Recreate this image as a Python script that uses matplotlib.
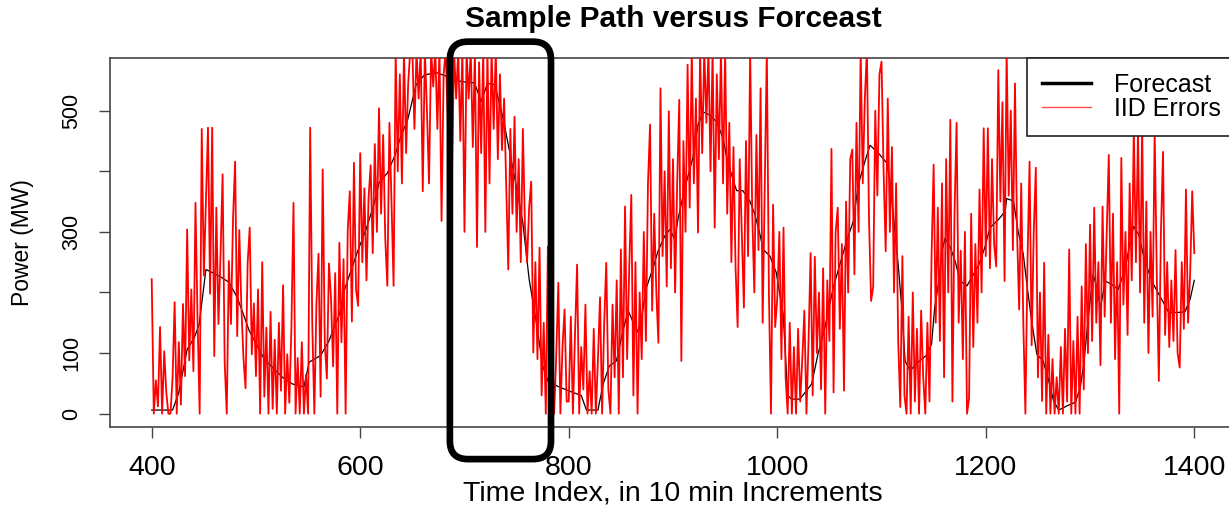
import numpy as np
import matplotlib
matplotlib.use("Agg")
import matplotlib.pyplot as plt
from matplotlib.patches import FancyBboxPatch
from matplotlib.lines import Line2D
from matplotlib.transforms import IdentityTransform

# ---------------------------------------------------------------------------
# Data
# ---------------------------------------------------------------------------
# Forecast curve (time index, MW)
forecast_time = [400, 420, 426, 434, 441, 445.5, 452, 465, 474, 482, 489, 493.5,
                 508, 516, 525.5, 535, 546, 551, 562, 570, 580, 585, 593, 597.5,
                 605.6, 613.6, 618, 626, 633, 639, 645.5, 653.6, 661.6, 672.8,
                 684, 697, 709.6, 716, 722, 729, 737, 741.6, 751, 756, 762, 769,
                 775, 780, 789.6, 802.5, 812, 817, 828, 833, 839, 845.7, 852, 857,
                 862, 866, 870, 874.5, 881, 885.6, 892, 897, 901.7, 905, 911, 919,
                 924, 929, 935, 941.7, 948, 951, 956, 961, 967, 973.7, 978.5, 983,
                 986.5, 993, 999, 1005.7, 1010, 1013.7, 1021.7, 1033, 1039, 1045.7,
                 1053.7, 1060, 1066.6, 1073, 1077.7, 1084, 1089, 1097, 1105, 1108,
                 1111, 1116, 1119.4, 1122.6, 1127.4, 1135, 1143, 1148, 1151, 1155,
                 1158, 1161, 1166, 1170.6, 1175.4, 1182, 1186.6, 1193, 1199, 1204,
                 1212, 1218.6, 1220, 1226.6, 1231, 1236, 1239, 1244, 1249, 1255,
                 1260, 1265, 1270, 1278, 1286, 1290.6, 1294, 1298.6, 1303, 1306.6,
                 1310, 1314.6, 1321, 1327, 1334, 1338.6, 1341.8, 1346.6, 1351, 1356,
                 1361, 1366, 1370.6, 1375.4, 1383.5, 1391, 1396, 1400]
forecast_mw = [6, 6, 35, 106, 126, 147, 238, 227, 217, 192, 159, 137,
               90, 76, 60, 49, 44, 85, 96, 120, 164, 205, 245, 268,
               304, 348, 381, 397, 425, 458, 485, 543, 559, 563,
               556, 548, 546, 515, 545, 543, 488, 447, 364, 315, 222, 150,
               79, 54, 45, 36, 30, 6, 6, 49, 79, 87, 137, 170,
               150, 135, 160, 208, 241, 268, 293, 304, 288, 323, 370, 422,
               477, 498, 493, 482, 455, 427, 395, 368, 368, 351, 329, 299,
               271, 260, 233, 164, 30, 24, 24, 49, 98, 142,
               208, 246, 285, 318, 378, 416, 443, 430, 414, 384,
               334, 246, 175, 87, 71, 85, 96, 115, 175, 219,
               268, 290, 274, 252, 219, 211, 225, 244, 274, 307,
               320, 334, 355, 351, 301, 263, 219, 153, 98, 87,
               57, 21, 6, 13, 19, 43, 82, 164, 230, 208,
               175, 219, 213, 205, 241, 285, 309, 296, 263, 235,
               213, 197, 183, 167, 167, 168, 189, 220]

# Sample path with IID errors, every 2nd time step from 400 to 1400
sample_start, sample_step = 400, 2
sample_mw = [
    222, 0, 55, 12, 143, 0, 103, 35, 0, 0, 58, 184, 0, 118, 15, 181, 62, 304, 88, 205, 70, 348, 152, 0, 470,
    228, 352, 472, 198, 472, 95, 340, 148, 262, 395, 84, 0, 252, 148, 322, 416, 128, 303, 176, 92, 42, 248, 307, 98, 182,
    62, 205, 0, 250, 28, 142, 0, 168, 8, 122, 0, 150, 38, 212, 0, 98, 18, 142, 348, 0, 92, 0, 118, 0, 64,
    0, 472, 148, 0, 182, 264, 28, 403, 118, 58, 248, 190, 78, 232, 0, 282, 118, 255, 0, 302, 367, 152, 414, 205, 178,
    430, 250, 372, 220, 356, 410, 265, 445, 300, 504, 330, 460, 290, 211, 480, 350, 211, 600, 400, 560, 380, 600, 430, 545, 600,
    600, 470, 600, 520, 600, 367, 600, 500, 380, 600, 540, 600, 470, 600, 318, 560, 600, 480, 600, 390, 600, 520, 600, 450, 600,
    300, 600, 520, 600, 440, 600, 275, 580, 430, 600, 300, 600, 380, 600, 470, 600, 420, 560, 435, 520, 380, 238, 470, 330, 490,
    300, 420, 250, 470, 310, 250, 340, 383, 101, 250, 90, 274, 30, 150, 0, 276, 20, 120, 0, 95, 216, 0, 110, 172, 20,
    20, 160, 0, 130, 246, 0, 110, 40, 180, 0, 70, 0, 140, 0, 90, 192, 0, 150, 249, 40, 0, 180, 60, 220, 0,
    271, 60, 342, 90, 240, 361, 30, 250, 0, 200, 90, 300, 120, 380, 477, 170, 330, 200, 117, 537, 260, 400, 210, 499, 240,
    420, 200, 380, 518, 87, 450, 300, 576, 340, 600, 380, 520, 299, 600, 430, 600, 480, 600, 400, 600, 307, 560, 420, 600, 380,
    600, 330, 480, 250, 440, 241, 143, 420, 300, 175, 450, 260, 600, 330, 200, 460, 270, 537, 150, 380, 600, 200, 0, 345, 143,
    190, 300, 90, 307, 60, 0, 150, 0, 110, 0, 140, 20, 90, 170, 0, 120, 265, 30, 259, 100, 200, 40, 240, 0, 220,
    120, 437, 35, 300, 340, 140, 280, 38, 350, 200, 420, 436, 230, 480, 300, 600, 380, 520, 600, 320, 186, 210, 500, 360, 560,
    581, 400, 268, 520, 300, 440, 200, 380, 120, 11, 260, 30, 0, 160, 0, 200, 20, 140, 0, 170, 60, 0, 150, 20, 260,
    411, 150, 340, 120, 380, 60, 420, 200, 485, 20, 330, 480, 150, 269, 90, 300, 0, 26, 330, 110, 280, 150, 370, 200, 471,
    260, 471, 240, 420, 280, 243, 567, 350, 514, 219, 600, 360, 500, 270, 545, 300, 172, 380, 150, 0, 250, 416, 113, 300, 406,
    60, 200, 21, 249, 0, 130, 0, 90, 0, 60, 0, 110, 0, 140, 20, 271, 0, 120, 0, 160, 0, 210, 40, 280, 100,
    312, 120, 340, 150, 250, 80, 342, 160, 300, 427, 150, 330, 90, 250, 0, 422, 180, 300, 130, 380, 220, 470, 250, 466, 200,
    475, 150, 350, 100, 300, 160, 466, 230, 54, 300, 432, 130, 250, 110, 220, 120, 270, 100, 76, 250, 140, 370, 150, 230, 367, 265,
]
sample_time = sample_start + sample_step * np.arange(len(sample_mw))

x_ticks = [400, 600, 800, 1000, 1200, 1400]
y_ticks = [0, 100, 200, 300, 400, 500]
y_tick_labels = ["0", "100", "", "300", "", "500"]

# Highlighted window (time index range, MW range incl. margin outside the axes)
window_start, window_end = 686, 783
window_low, window_high = -75, 614

# ---------------------------------------------------------------------------
# Figure
# ---------------------------------------------------------------------------
plt.rcParams["font.family"] = ["Liberation Sans", "DejaVu Sans"]

W, H = 1229, 507
fig = plt.figure(figsize=(W / 100, H / 100), dpi=100)
ax = fig.add_axes([110 / W, 80 / H, 1126 / W, 369 / H])

ax.plot(forecast_time, forecast_mw, color="black", lw=0.9, zorder=2)
ax.plot(sample_time, sample_mw, color="red", lw=1.3, zorder=3)

ax.set_xlim(360, 1440)
ax.set_ylim(-22, 587)

for sp in ax.spines.values():
    sp.set_color("#444444")
    sp.set_linewidth(1.2)

ax.set_xticks(x_ticks)
ax.set_xticklabels([str(v) for v in x_ticks])
ax.set_yticks(y_ticks)
ax.set_yticklabels(y_tick_labels, rotation=90, va="center")
ax.tick_params(axis="both", direction="out", length=8, width=1.0, color="#444444")
ax.tick_params(axis="x", labelsize=20.5, pad=12)
ax.tick_params(axis="y", labelsize=15.5, pad=12)

ax.set_xlabel("Time Index, in 10 min Increments", fontsize=20.5, va="center")
ax.xaxis.set_label_coords(0.5, (427 - 494) / 369)
ax.set_ylabel("Power (MW)", fontsize=16.5, va="center")
ax.yaxis.set_label_coords((22 - 110) / 1126, 0.5)

fig.text(673 / W, 1 - 19 / H, "Sample Path versus Forceast", ha="center",
         va="center", fontsize=21.5, fontweight="bold")

handles = [Line2D([], [], color="black", lw=2.5),
           Line2D([], [], color="#ff5050", lw=1.0)]
leg = ax.legend(handles, ["Forecast", "IID Errors"], loc="upper left",
                bbox_to_anchor=((1027 - 110) / 1126, 1.0), borderaxespad=0,
                fontsize=18, frameon=True, fancybox=False, framealpha=1,
                edgecolor="#222222", borderpad=0.6, labelspacing=0.0,
                handlelength=1.95, handletextpad=0.95)
leg.get_frame().set_linewidth(1.2)
leg.set_zorder(5)

# Rounded highlight box around the window, drawn in pixel space
fig.canvas.draw()
(px0, py0) = ax.transData.transform((window_start, window_low))
(px1, py1) = ax.transData.transform((window_end, window_high))
box = FancyBboxPatch((px0, py0), px1 - px0, py1 - py0,
                     boxstyle="round,pad=0,rounding_size=18",
                     transform=IdentityTransform(), fill=False,
                     edgecolor="black", linewidth=4.8, zorder=10)
fig.add_artist(box)

fig.savefig("out.png", dpi=100)
